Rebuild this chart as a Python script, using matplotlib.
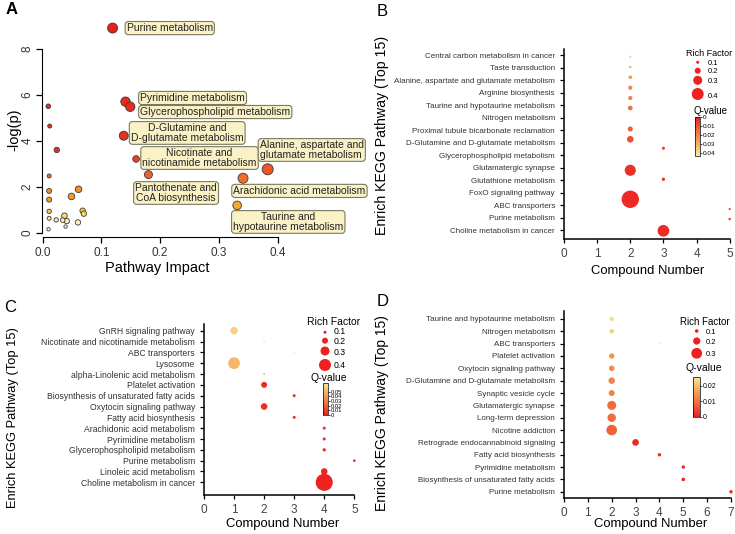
import matplotlib
matplotlib.use('Agg')
import matplotlib.pyplot as plt
from matplotlib.colors import LinearSegmentedColormap, Normalize
from matplotlib.cm import ScalarMappable

plt.rcParams['font.family'] = ['Liberation Sans', 'DejaVu Sans']

W, H = 735, 534

# ---------------- panel A: pathway impact vs -log(p)
a_impact = [0.119, 0.141, 0.149, 0.138, 0.159, 0.180, 0.341, 0.383, 0.331,
            0.0096, 0.012, 0.024, 0.011, 0.011, 0.011, 0.011, 0.011, 0.010,
            0.023, 0.037, 0.034, 0.041, 0.039, 0.049, 0.061, 0.060, 0.068, 0.070]
a_logp = [8.91, 5.71, 5.49, 4.23, 3.22, 2.54, 2.38, 2.77, 1.20,
          5.51, 4.65, 3.61, 2.48, 1.83, 1.45, 0.94, 0.64, 0.16,
          0.57, 0.75, 0.56, 0.52, 0.28, 1.59, 1.90, 0.46, 0.97, 0.84]
a_node = [5.0, 4.7, 4.7, 4.5, 3.3, 4.0, 5.0, 5.5, 4.3,
          2.3, 2.0, 2.7, 2.0, 2.5, 2.5, 2.2, 2.0, 1.7,
          2.2, 2.8, 2.3, 2.7, 1.7, 3.3, 3.3, 2.7, 2.7, 2.7]
a_names = ['Purine metabolism', 'Pyrimidine metabolism',
           'Glycerophospholipid metabolism',
           'D-Glutamine and\nD-glutamate metabolism',
           'Nicotinate and\nnicotinamide metabolism',
           'Pantothenate and\nCoA biosynthesis',
           'Arachidonic acid metabolism',
           'Alanine, aspartate and\nglutamate metabolism',
           'Taurine and\nhypotaurine metabolism']

# ---------------- panel B
b_pathways = ['Central carbon metabolism in cancer', 'Taste transduction',
              'Alanine, aspartate and glutamate metabolism', 'Arginine biosynthesis',
              'Taurine and hypotaurine metabolism', 'Nitrogen metabolism',
              'Proximal tubule bicarbonate reclamation',
              'D-Glutamine and D-glutamate metabolism',
              'Glycerophospholipid metabolism', 'Glutamatergic synapse',
              'Glutathione metabolism', 'FoxO signaling pathway', 'ABC transporters',
              'Purine metabolism', 'Choline metabolism in cancer']
b_count = [2, 2, 2, 2, 2, 2, 2, 2, 3, 2, 3, 2, 5, 5, 3]
b_row = [0.14, 0.96, 1.78, 2.62, 3.44, 4.24, 5.92, 6.74, 7.46, 9.22, 9.94,
         11.54, 12.32, 13.12, 14.06]
b_rich = [0.08, 0.09, 0.12, 0.14, 0.14, 0.155, 0.17, 0.22, 0.10, 0.37, 0.11,
          0.58, 0.07, 0.08, 0.39]
b_q = [0.040, 0.034, 0.026, 0.022, 0.020, 0.016, 0.012, 0.009, 0.004, 0.003,
       0.004, 0.002, 0.004, 0.004, 0.002]

# ---------------- panel C
c_pathways = ['GnRH signaling pathway', 'Nicotinate and nicotinamide metabolism',
              'ABC transporters', 'Lysosome', 'alpha-Linolenic acid metabolism',
              'Platelet activation', 'Biosynthesis of unsaturated fatty acids',
              'Oxytocin signaling pathway', 'Fatty acid biosynthesis',
              'Arachidonic acid metabolism', 'Pyrimidine metabolism',
              'Glycerophospholipid metabolism', 'Purine metabolism',
              'Linoleic acid metabolism', 'Choline metabolism in cancer']
c_count = [1, 2, 3, 1, 2, 2, 3, 2, 3, 4, 4, 4, 5, 4, 4]
c_rich = [0.25, 0.05, 0.045, 0.39, 0.065, 0.20, 0.10, 0.22, 0.10, 0.10, 0.10,
          0.11, 0.09, 0.22, 0.57]
c_q = [0.060, 0.062, 0.066, 0.050, 0.050, 0.004, 0.004, 0.004, 0.004, 0.003,
       0.003, 0.003, 0.004, 0.002, 0.001]

# ---------------- panel D
d_pathways = ['Taurine and hypotaurine metabolism', 'Nitrogen metabolism',
              'ABC transporters', 'Platelet activation', 'Oxytocin signaling pathway',
              'D-Glutamine and D-glutamate metabolism', 'Synaptic vesicle cycle',
              'Glutamatergic synapse', 'Long-term depression', 'Nicotine addiction',
              'Retrograde endocannabinoid signaling', 'Fatty acid biosynthesis',
              'Pyrimidine metabolism', 'Biosynthesis of unsaturated fatty acids',
              'Purine metabolism']
d_count = [2, 2, 4, 2, 2, 2, 2, 2, 2, 2, 3, 4, 5, 5, 7]
d_rich = [0.12, 0.12, 0.045, 0.15, 0.155, 0.18, 0.165, 0.25, 0.235, 0.295,
          0.185, 0.095, 0.095, 0.10, 0.095]
d_q = [0.024, 0.022, 0.026, 0.0145, 0.0135, 0.012, 0.012, 0.009, 0.009, 0.008,
       0.001, 0.001, 0.001, 0.001, 0.001]

legend_rich = [0.1, 0.2, 0.3, 0.4]


fig = plt.figure(figsize=(W / 100, H / 100), dpi=100)


def px_axes(x0, y0, x1, y1):
    return fig.add_axes([x0 / W, 1 - y1 / H, (x1 - x0) / W, (y1 - y0) / H])


def ftext(x, y, s, **kw):
    fig.text(x / W, 1 - y / H, s, **kw)


def r2s(r):
    # radius in pixels -> scatter size in pt^2
    return (1.44 * r) ** 2


heat = LinearSegmentedColormap.from_list('heat', [
    (0.0, '#ffffff'), (0.4 / 9, '#fbf4d0'), (0.8 / 9, '#f5dc60'),
    (1.2 / 9, '#f5a830'), (2.0 / 9, '#f38a2a'), (2.5 / 9, '#f0622a'),
    (3.5 / 9, '#ea3020'), (1.0, '#e8201a')])
qmap = LinearSegmentedColormap.from_list(
    'q', ['#ee2020', '#f06a3c', '#f4a85a', '#f8e89a'])

# overlay for legend markers in pixel coordinates
over = fig.add_axes([0, 0, 1, 1], zorder=5)
over.set_xlim(0, W)
over.set_ylim(H, 0)
over.axis('off')

# ====================== A
ax = px_axes(41.5, 14.5, 289.5, 237)
ax.set_xlim(-0.002, 0.4201)
ax.set_ylim(-0.174, 9.5)
order = sorted(range(len(a_node)), key=lambda i: -a_node[i])
ax.scatter([a_impact[i] for i in order], [a_logp[i] for i in order],
           s=[r2s(a_node[i]) for i in order],
           c=[heat(a_logp[i] / 9) for i in order],
           edgecolors='#3a3a3a', linewidths=0.6, clip_on=False, zorder=3)
for sp in ['top', 'right']:
    ax.spines[sp].set_visible(False)
ax.spines['left'].set_bounds(0, 8)
ax.spines['bottom'].set_bounds(0, 0.4)
ax.set_xticks([0, 0.1, 0.2, 0.3, 0.4])
ax.set_xticklabels(['0.0', '0.1', '0.2', '0.3', '0.4'])
ax.set_yticks([0, 2, 4, 6, 8])
ax.set_yticklabels(['0', '2', '4', '6', '8'], rotation=90, va='center')
ax.tick_params(labelsize=8.5, labelcolor='#333333', length=4, width=0.9)
ax.tick_params(axis='y', pad=1.5)
ax.patch.set_alpha(0)

box = dict(boxstyle='round,pad=0.15,rounding_size=0.3', fc='#faf2c6',
           ec='#7a7a60', lw=0.8)
label_pos = [(0.143, 8.91, 'left'), (0.166, 5.87, 'left'), (0.166, 5.26, 'left'),
             (0.246, 4.35, 'center'), (0.267, 3.26, 'center'),
             (0.227, 1.74, 'center'), (0.437, 1.83, 'center'),
             (0.458, 3.61, 'center'), (0.418, 0.48, 'center')]
for name, (lx, ly, ha) in zip(a_names, label_pos):
    ma = 'left' if name.startswith('Alanine') else 'center'
    ax.text(lx, ly, name, ha=ha, va='center', fontsize=7.5, color='#222222',
            multialignment=ma, linespacing=0.95, bbox=box, clip_on=False,
            zorder=4)

ftext(12, 10, 'A', fontsize=12, fontweight='bold', ha='center', va='center')
ftext(157, 268, 'Pathway Impact', fontsize=10.5, ha='center', va='center')
ftext(14, 130, '-log(p)', fontsize=10.5, ha='center', va='center', rotation=90)


# ====================== B, C, D
def bubble_panel(box_px, xlim, ylim, names, counts, rows, rich, q, k, vmax,
                 lab_size):
    ax = px_axes(*box_px)
    ax.set_xlim(*xlim)
    ax.set_ylim(*ylim)
    ax.scatter(counts, rows, s=[r2s(k * r) for r in rich], c=q, cmap=qmap,
               norm=Normalize(0, vmax), edgecolors='none', clip_on=False,
               zorder=3)
    for sp in ['top', 'right']:
        ax.spines[sp].set_visible(False)
    for sp in ['left', 'bottom']:
        ax.spines[sp].set_linewidth(1.1)
    ax.set_yticks(range(len(names)))
    ax.set_yticklabels(names, fontsize=lab_size, color='#333333')
    ax.set_xticks(range(int(xlim[1]) + 1))
    ax.tick_params(axis='x', labelsize=8.5, labelcolor='#444444')
    ax.tick_params(length=3, width=0.9)
    ax.patch.set_alpha(0)
    return ax


def colorbar_px(box_px, vmax, ticks, labels, invert, fs):
    cax = px_axes(*box_px)
    cb = fig.colorbar(ScalarMappable(Normalize(0, vmax), qmap), cax=cax)
    cb.set_ticks(ticks)
    cb.set_ticklabels(labels)
    cb.outline.set_linewidth(0.5)
    cax.tick_params(labelsize=fs, length=1.5, width=0.5, pad=0.5)
    if invert:
        cax.invert_yaxis()


# B
bubble_panel((564, 49, 729.7, 239.3), (0, 5), (14.74, -0.48), b_pathways,
             b_count, b_row, b_rich, b_q, 15, 0.043, 5.8)
ftext(382, 11, 'B', fontsize=12, ha='center', va='center')
ftext(648, 271, 'Compound Number', fontsize=9.4, ha='center', va='center')
ftext(382, 135, 'Enrich KEGG Pathway (Top 15)', fontsize=10.2, ha='center',
      va='center', rotation=90)
ftext(709, 54, 'Rich Factor', fontsize=6.5, ha='center', va='center')
for rf, yy in zip(legend_rich, [62.3, 70.7, 80.3, 94]):
    over.scatter(697.7, yy, s=r2s(15 * rf), color='#ee2020', edgecolors='none')
    ftext(708, yy + (2.5 if rf == 0.4 else 1), '%.1f' % rf, fontsize=5.5,
          ha='left', va='center')
ftext(711, 110.7, 'Q-value', fontsize=7, ha='center', va='center')
colorbar_px((694.5, 117, 699.5, 155.5), 0.043, [0, 0.01, 0.02, 0.03, 0.04],
            ['0', '0.01', '0.02', '0.03', '0.04'], True, 4.6)

# C
bubble_panel((204, 324.3, 354.3, 495), (0, 5), (15.17, -0.59), c_pathways,
             c_count, range(15), c_rich, c_q, 15, 0.068, 6.2)
ftext(10, 307, 'C', fontsize=12, ha='center', va='center')
ftext(283, 524, 'Compound Number', fontsize=9.4, ha='center', va='center')
ftext(13, 418, 'Enrich KEGG Pathway (Top 15)', fontsize=9.3, ha='center',
      va='center', rotation=90)
ftext(333.3, 321.7, 'Rich Factor', fontsize=7.5, ha='center', va='center')
for rf, yy in zip(legend_rich, [332.3, 340.7, 351, 365]):
    over.scatter(325, yy, s=r2s(15 * rf), color='#ee2020', edgecolors='none')
for rf, yy in zip(legend_rich, [331, 341.6, 352.4, 366]):
    ftext(334, yy, '%.1f' % rf, fontsize=6.3, ha='left', va='center')
ftext(329.3, 377.7, 'Q-value', fontsize=7.5, ha='center', va='center')
colorbar_px((322.7, 383.3, 327.7, 415), 0.068,
            [0, 0.01, 0.02, 0.03, 0.04, 0.05],
            ['0', '0.01', '0.02', '0.03', '0.04', '0.05'], False, 4.2)

# D
bubble_panel((564, 310.7, 731, 497.7), (0, 7), (14.48, -0.67), d_pathways,
             d_count, range(15), d_rich, d_q, 18, 0.026, 5.8)
ftext(383, 302, 'D', fontsize=12, ha='center', va='center')
ftext(651, 524, 'Compound Number', fontsize=9.4, ha='center', va='center')
ftext(382, 413, 'Enrich KEGG Pathway (Top 15)', fontsize=10, ha='center',
      va='center', rotation=90)
ftext(705, 322.3, 'Rich Factor', fontsize=7, ha='center', va='center')
for rf, yy in zip(legend_rich[:3], [331, 341, 353.3]):
    over.scatter(696.7, yy, s=r2s(18 * rf), color='#ee2020', edgecolors='none')
    ftext(706, yy + 1, '%.1f' % rf, fontsize=5.5, ha='left', va='center')
ftext(704, 368.3, 'Q-value', fontsize=7.5, ha='center', va='center')
colorbar_px((693, 376.7, 700.3, 416.7), 0.026, [0, 0.01, 0.02],
            ['0', '0.01', '0.02'], False, 5)

fig.savefig('out.png', dpi=100)
